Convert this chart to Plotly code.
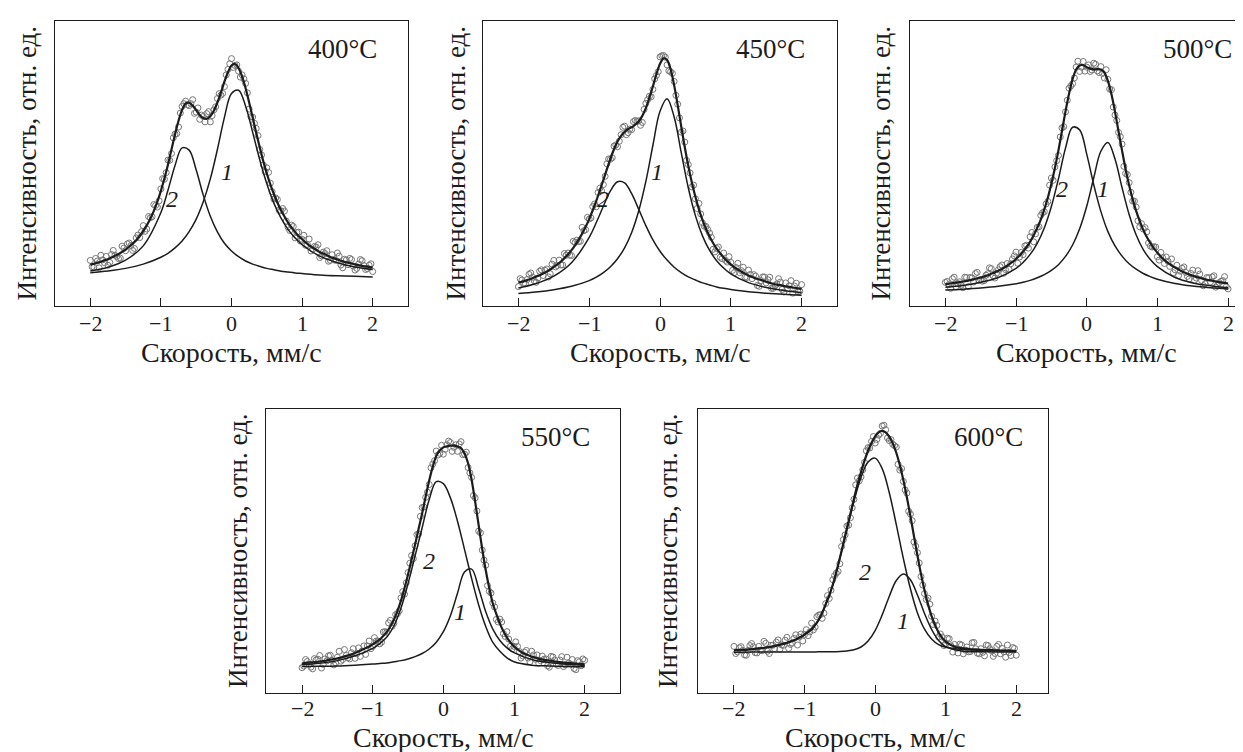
import plotly.graph_objects as go

# ---------------- data ----------------
X_DATA = [-2.0, -1.95, -1.9, -1.85, -1.8, -1.75, -1.7, -1.65, -1.6, -1.55,
          -1.5, -1.45, -1.4, -1.35, -1.3, -1.25, -1.2, -1.15, -1.1, -1.05,
          -1.0, -0.95, -0.9, -0.85, -0.8, -0.75, -0.7, -0.65, -0.6, -0.55,
          -0.5, -0.45, -0.4, -0.35, -0.3, -0.25, -0.2, -0.15, -0.1, -0.05,
          0.0, 0.05, 0.1, 0.15, 0.2, 0.25, 0.3, 0.35, 0.4, 0.45,
          0.5, 0.55, 0.6, 0.65, 0.7, 0.75, 0.8, 0.85, 0.9, 0.95,
          1.0, 1.05, 1.1, 1.15, 1.2, 1.25, 1.3, 1.35, 1.4, 1.45,
          1.5, 1.55, 1.6, 1.65, 1.7, 1.75, 1.8, 1.85, 1.9, 1.95, 2.0]

X_MID = [-1.975, -1.925, -1.875, -1.825, -1.775, -1.725, -1.675, -1.625, -1.575, -1.525,
         -1.475, -1.425, -1.375, -1.325, -1.275, -1.225, -1.175, -1.125, -1.075, -1.025,
         -0.975, -0.925, -0.875, -0.825, -0.775, -0.725, -0.675, -0.625, -0.575, -0.525,
         -0.475, -0.425, -0.375, -0.325, -0.275, -0.225, -0.175, -0.125, -0.075, -0.025,
         0.025, 0.075, 0.125, 0.175, 0.225, 0.275, 0.325, 0.375, 0.425, 0.475,
         0.525, 0.575, 0.625, 0.675, 0.725, 0.775, 0.825, 0.875, 0.925, 0.975,
         1.025, 1.075, 1.125, 1.175, 1.225, 1.275, 1.325, 1.375, 1.425, 1.475,
         1.525, 1.575, 1.625, 1.675, 1.725, 1.775, 1.825, 1.875, 1.925, 1.975]

X_FIT = [-2.0, -1.75, -1.5, -1.25, -1.0, -0.9, -0.8, -0.7, -0.6, -0.5,
         -0.4, -0.3, -0.2, -0.1, 0.0, 0.1, 0.2, 0.3, 0.4, 0.5,
         0.6, 0.7, 0.8, 0.9, 1.0, 1.25, 1.5, 1.75, 2.0]

TEMPS = ["400°C", "450°C", "500°C", "550°C", "600°C"]
TICK_VALS = [-2, -1, 0, 1, 2]
TICK_TEXT = ["\u22122", "\u22121", "0", "1", "2"]
X_TITLE = "Скорость, мм/с"
Y_TITLE = "Интенсивность, отн. ед."

# 400 °C
POINTS_400 = [16.0, 13.6, 15.8, 17.8, 15.2, 14.3, 18.1, 17.8, 16.6, 21.0,
              19.4, 22.1, 19.5, 23.9, 24.0, 28.2, 27.0, 31.0, 35.6, 34.7,
              41.1, 44.5, 51.2, 53.5, 60.3, 62.8, 70.0, 71.9, 70.3, 72.4,
              68.0, 65.5, 66.5, 67.5, 64.6, 68.8, 72.8, 74.0, 77.0, 83.0,
              86.8, 84.4, 82.4, 81.1, 78.1, 69.1, 66.3, 62.3, 54.9, 49.5,
              48.5, 43.1, 37.5, 37.4, 33.4, 33.3, 27.7, 28.4, 23.9, 25.9,
              23.4, 21.3, 23.5, 19.9, 20.7, 17.0, 18.9, 19.4, 16.0, 16.3,
              18.6, 14.4, 16.4, 14.5, 16.3, 12.6, 14.7, 15.9, 12.8, 14.3, 12.1]
POINTS_MID_400 = [13.8, 16.7, 13.4, 16.2, 17.4, 15.3, 19.5, 17.4, 16.8, 20.3,
                  21.8, 21.2, 20.2, 24.9, 26.1, 26.2, 31.4, 31.3, 35.3, 36.9,
                  44.7, 46.8, 51.1, 59.0, 60.5, 67.7, 71.0, 70.6, 71.0, 67.6,
                  69.5, 67.0, 64.6, 68.2, 66.8, 69.9, 74.5, 74.6, 81.1, 85.0,
                  83.7, 84.6, 80.3, 79.7, 74.8, 66.4, 64.1, 59.8, 53.0, 47.2,
                  46.9, 40.1, 37.9, 33.6, 34.2, 29.8, 26.5, 27.9, 25.8, 22.8,
                  24.8, 21.6, 19.3, 20.9, 21.5, 17.6, 18.4, 15.7, 18.0, 16.0,
                  17.5, 13.4, 16.1, 16.7, 14.0, 13.2, 16.3, 14.2, 13.1, 14.8]
FIT_400 = [14.5, 14.8, 15.2, 15.5, 16.0, 16.4, 17.0, 17.6, 18.2, 19.0,
           19.8, 20.8, 21.9, 23.1, 24.6, 26.3, 28.3, 30.6, 33.4, 36.6,
           40.4, 44.8, 49.6, 54.9, 60.2, 65.0, 68.8, 71.0, 71.3, 70.3,
           68.7, 67.0, 66.0, 65.7, 66.6, 68.5, 71.4, 74.9, 78.7, 82.0,
           84.4, 84.9, 83.5, 80.5, 76.4, 71.4, 66.1, 60.8, 55.7, 50.8,
           46.5, 42.7, 39.3, 36.3, 33.6, 31.4, 29.3, 27.6, 26.0, 24.6,
           23.4, 22.3, 21.3, 20.5, 19.7, 18.9, 18.4, 17.8, 17.2, 16.7,
           16.3, 15.9, 15.5, 15.2, 14.9, 14.6, 14.4, 14.1, 13.9, 13.7, 13.5]
COMP1_400 = [11.7, 12.3, 13.2, 14.7, 17.1, 18.5, 20.4, 22.8, 26.1, 30.5,
             36.6, 44.6, 54.9, 66.2, 74.6, 75.7, 70.1, 60.9, 51.3, 42.9,
             36.1, 30.9, 26.9, 23.9, 21.5, 17.5, 15.2, 13.7, 12.8]
COMP2_400 = [12.3, 13.6, 16.1, 21.1, 32.8, 40.6, 49.3, 55.5, 54.7, 47.7,
             38.9, 31.5, 26.0, 22.0, 19.3, 17.3, 15.8, 14.7, 13.9, 13.2,
             12.7, 12.2, 11.9, 11.6, 11.4, 10.9, 10.6, 10.4, 10.2]

# 450 °C
POINTS_450 = [6.8, 9.1, 7.8, 11.1, 10.1, 8.3, 12.2, 10.7, 13.0, 11.3,
              16.0, 14.2, 14.4, 18.4, 18.6, 17.7, 22.3, 22.6, 27.6, 26.8,
              30.5, 34.9, 34.8, 41.3, 42.6, 49.9, 51.5, 56.1, 55.9, 60.1,
              63.1, 60.8, 61.9, 65.1, 65.0, 64.4, 71.1, 73.6, 76.0, 80.9,
              87.4, 87.9, 84.6, 82.2, 78.8, 70.8, 61.0, 57.5, 49.6, 41.8,
              37.6, 36.0, 29.2, 27.9, 25.6, 19.9, 20.2, 17.1, 18.6, 15.4,
              15.3, 11.7, 15.0, 12.4, 10.1, 12.6, 9.6, 10.5, 6.9, 10.2,
              8.1, 10.1, 6.2, 7.7, 8.4, 4.9, 6.0, 8.9, 7.0, 5.0, 7.5]
POINTS_MID_450 = [9.6, 8.0, 9.3, 11.6, 8.8, 9.8, 12.7, 12.5, 10.2, 14.7,
                  13.7, 16.1, 14.4, 17.8, 17.8, 22.7, 23.1, 22.7, 26.4, 31.1,
                  30.9, 35.8, 39.8, 40.4, 45.5, 51.6, 52.0, 56.5, 57.8, 62.7,
                  60.1, 62.1, 64.7, 64.8, 63.4, 69.0, 72.4, 73.4, 79.7, 82.2,
                  87.8, 87.3, 82.5, 81.6, 73.9, 66.0, 61.4, 51.1, 46.7, 42.4,
                  34.2, 32.3, 28.0, 26.8, 24.1, 19.0, 20.7, 16.6, 16.0, 17.3,
                  12.5, 13.5, 11.7, 13.6, 10.0, 11.1, 11.0, 7.2, 8.9, 10.2,
                  9.2, 6.2, 7.2, 9.6, 5.8, 8.1, 7.1, 4.5, 8.0, 5.2]
FIT_450 = [8.2, 8.5, 8.9, 9.3, 9.8, 10.3, 10.8, 11.4, 12.1, 12.8,
           13.7, 14.6, 15.6, 16.8, 18.1, 19.6, 21.3, 23.2, 25.4, 27.8,
           30.5, 33.6, 36.9, 40.5, 44.2, 48.0, 51.7, 55.0, 57.7, 59.7,
           61.1, 62.1, 62.7, 63.6, 64.8, 66.7, 69.4, 73.0, 77.1, 81.4,
           85.0, 86.9, 86.3, 83.1, 77.4, 70.5, 63.0, 55.7, 49.1, 43.3,
           38.3, 33.9, 30.2, 27.0, 24.4, 22.1, 20.1, 18.5, 17.0, 15.7,
           14.6, 13.6, 12.8, 12.0, 11.4, 10.7, 10.2, 9.7, 9.3, 8.9,
           8.5, 8.1, 7.8, 7.5, 7.3, 7.0, 6.8, 6.6, 6.4, 6.2, 6.0]
COMP1_450 = [4.4, 4.9, 5.7, 6.9, 8.9, 10.1, 11.7, 13.8, 16.6, 20.4,
             25.8, 33.4, 43.7, 56.4, 68.3, 72.7, 66.3, 53.8, 41.4, 31.7,
             24.6, 19.5, 15.9, 13.3, 11.3, 8.2, 6.5, 5.4, 4.7]
COMP2_450 = [6.3, 7.9, 10.5, 15.2, 24.1, 29.3, 35.0, 40.4, 43.6, 43.2,
             39.4, 33.9, 28.2, 23.2, 19.2, 16.1, 13.6, 11.7, 10.2, 9.1,
             8.1, 7.4, 6.7, 6.2, 5.8, 5.0, 4.5, 4.1, 3.8]

# 500 °C
POINTS_500 = [8.3, 7.5, 9.6, 6.8, 8.5, 6.4, 10.0, 10.0, 8.4, 11.8,
              9.3, 8.9, 11.3, 13.1, 9.8, 12.7, 14.4, 12.8, 12.9, 16.5,
              18.9, 17.2, 18.0, 21.3, 24.3, 22.5, 27.6, 31.8, 33.1, 36.7,
              44.9, 48.8, 52.8, 62.5, 68.1, 76.4, 78.0, 83.8, 82.3, 85.8,
              83.8, 82.3, 85.2, 82.5, 84.0, 80.0, 79.5, 75.9, 67.0, 60.9,
              56.8, 46.5, 43.3, 36.8, 34.7, 27.8, 27.0, 26.0, 21.0, 20.8,
              17.3, 18.8, 14.9, 15.7, 16.5, 12.7, 10.7, 13.2, 11.8, 9.5,
              12.6, 9.8, 11.2, 7.1, 10.0, 8.4, 10.6, 7.2, 8.7, 10.3, 6.0]
POINTS_MID_500 = [8.6, 6.2, 10.1, 7.9, 7.3, 10.1, 6.8, 9.8, 11.4, 9.0,
                  8.7, 10.8, 13.4, 10.6, 11.5, 13.8, 11.5, 14.9, 14.8, 17.6,
                  15.0, 18.8, 21.1, 20.3, 25.8, 25.3, 27.8, 32.7, 35.8, 42.4,
                  44.1, 51.0, 59.3, 62.9, 72.2, 77.2, 80.0, 85.9, 83.8, 82.4,
                  84.6, 82.8, 84.8, 81.9, 81.6, 82.9, 76.1, 69.8, 65.1, 59.4,
                  49.0, 46.1, 39.9, 36.8, 29.9, 28.9, 27.5, 22.1, 20.7, 20.7,
                  16.1, 16.9, 17.2, 13.9, 11.7, 14.3, 12.2, 13.7, 10.4, 11.4,
                  9.0, 12.4, 9.0, 7.8, 9.9, 10.2, 6.6, 8.2, 8.9, 6.8]
FIT_500 = [7.6, 7.8, 8.0, 8.2, 8.4, 8.6, 8.8, 9.1, 9.4, 9.7,
           10.0, 10.4, 10.8, 11.3, 11.8, 12.4, 13.0, 13.7, 14.6, 15.5,
           16.5, 17.7, 19.1, 20.7, 22.6, 24.8, 27.4, 30.3, 33.9, 38.0,
           42.9, 48.4, 54.6, 61.4, 68.3, 74.5, 79.6, 83.0, 84.4, 84.5,
           83.8, 83.3, 83.0, 83.1, 83.0, 81.9, 79.0, 74.3, 68.2, 61.3,
           54.5, 48.0, 42.4, 37.5, 33.3, 29.8, 26.7, 24.2, 22.1, 20.2,
           18.7, 17.3, 16.1, 15.1, 14.2, 13.5, 12.8, 12.1, 11.6, 11.1,
           10.6, 10.2, 9.9, 9.5, 9.2, 9.0, 8.7, 8.5, 8.3, 8.1, 7.9]
COMP1_500 = [5.6, 5.9, 6.3, 6.9, 7.8, 8.3, 9.0, 9.9, 11.0, 12.5,
             14.5, 17.4, 21.4, 27.1, 35.0, 45.0, 54.3, 57.4, 51.6, 41.5,
             32.1, 24.9, 19.8, 16.3, 13.8, 10.0, 8.1, 7.1, 6.4]
COMP2_500 = [6.6, 7.2, 8.3, 10.0, 13.2, 15.3, 18.1, 22.0, 27.4, 34.9,
             44.6, 55.4, 62.7, 61.8, 53.3, 42.5, 33.2, 26.1, 21.1, 17.5,
             14.8, 12.9, 11.4, 10.3, 9.4, 7.9, 7.0, 6.4, 6.0]

# 550 °C
POINTS_550 = [8.9, 11.8, 10.1, 8.5, 11.7, 13.2, 10.1, 11.3, 13.3, 9.9,
              12.6, 11.2, 15.3, 12.4, 14.2, 12.2, 15.9, 14.8, 13.6, 18.3,
              16.4, 18.3, 17.3, 21.5, 21.4, 25.6, 24.6, 27.9, 33.5, 34.8,
              42.4, 48.4, 51.8, 56.0, 65.3, 68.9, 73.4, 80.6, 85.2, 84.4,
              84.1, 87.4, 88.2, 86.5, 85.1, 88.5, 84.1, 79.4, 75.9, 68.7,
              57.0, 50.3, 45.0, 35.8, 31.7, 25.9, 26.0, 20.9, 21.6, 16.5,
              16.4, 16.4, 12.3, 14.4, 12.3, 14.7, 11.9, 10.5, 13.0, 12.0,
              9.1, 12.7, 10.1, 11.6, 9.3, 12.6, 10.2, 8.6, 11.4, 9.6, 11.5]
POINTS_MID_550 = [9.5, 11.1, 9.1, 12.1, 11.9, 8.8, 12.0, 13.1, 11.5, 10.6,
                  14.7, 11.8, 13.2, 12.0, 15.6, 13.8, 12.9, 16.6, 16.6, 15.6,
                  19.5, 18.3, 17.9, 21.6, 24.7, 23.5, 27.6, 28.9, 35.7, 38.8,
                  45.7, 47.3, 55.8, 62.2, 65.5, 70.7, 79.3, 81.8, 83.8, 87.2,
                  85.8, 88.7, 85.1, 87.4, 87.7, 83.9, 84.8, 77.5, 69.5, 64.1,
                  56.4, 46.8, 37.8, 35.2, 30.3, 25.0, 25.0, 19.9, 19.0, 15.5,
                  18.0, 14.6, 13.0, 15.0, 11.0, 13.4, 13.4, 11.4, 11.9, 9.6,
                  12.9, 11.6, 9.7, 12.8, 9.9, 10.5, 11.8, 8.2, 11.0, 12.0]
FIT_550 = [10.4, 10.6, 10.7, 10.8, 10.9, 11.1, 11.2, 11.5, 11.7, 11.9,
           12.2, 12.5, 12.9, 13.2, 13.6, 14.1, 14.6, 15.2, 15.8, 16.4,
           17.1, 18.0, 18.9, 20.1, 21.5, 23.4, 25.8, 28.8, 32.5, 36.9,
           41.7, 46.9, 52.3, 57.8, 63.3, 69.2, 74.8, 79.7, 83.5, 85.4,
           86.5, 86.9, 87.1, 87.1, 86.8, 86.2, 84.3, 80.9, 75.1, 67.4,
           59.0, 50.7, 43.2, 36.9, 31.5, 27.8, 24.4, 21.7, 19.5, 17.8,
           16.4, 15.4, 14.5, 13.8, 13.3, 12.8, 12.4, 12.1, 11.8, 11.6,
           11.4, 11.2, 11.0, 10.9, 10.7, 10.6, 10.5, 10.4, 10.3, 10.2, 10.1]
COMP1_550 = [9.3, 9.4, 9.5, 9.8, 10.2, 10.4, 10.6, 11.0, 11.4, 12.0,
             12.8, 13.9, 15.5, 17.9, 21.6, 27.2, 35.1, 42.6, 43.6, 36.8,
             28.6, 22.5, 18.5, 15.9, 14.2, 11.8, 10.7, 10.1, 9.7]
COMP2_550 = [10.0, 10.5, 11.4, 13.1, 15.7, 17.4, 19.7, 23.6, 29.9, 38.5,
             48.3, 58.2, 68.1, 74.4, 73.7, 68.7, 60.5, 50.5, 40.3, 31.0,
             23.4, 17.8, 14.7, 12.4, 11.0, 9.8, 9.5, 9.3, 9.2]

# 600 °C
POINTS_600 = [16.4, 14.5, 16.3, 13.4, 15.0, 17.4, 14.2, 16.4, 14.9, 17.5,
              13.9, 16.8, 17.9, 15.4, 16.8, 19.6, 17.1, 19.2, 16.9, 20.8,
              20.6, 20.2, 24.6, 23.2, 27.4, 26.3, 31.5, 33.3, 39.9, 42.2,
              45.5, 54.0, 58.8, 61.7, 68.2, 75.7, 76.1, 81.2, 86.4, 88.6,
              88.0, 90.8, 94.0, 92.7, 88.9, 87.6, 86.6, 78.5, 74.5, 70.4,
              63.0, 53.2, 49.4, 41.0, 35.0, 33.4, 27.0, 25.3, 19.7, 19.7,
              17.4, 19.1, 14.4, 15.7, 17.2, 13.8, 16.2, 14.6, 17.8, 14.0,
              15.6, 13.1, 16.7, 14.9, 13.9, 17.1, 15.7, 12.6, 14.3, 16.0, 13.3]
POINTS_MID_600 = [13.9, 15.9, 15.0, 13.3, 16.7, 16.3, 14.1, 15.1, 18.2, 14.7,
                  16.8, 15.6, 18.7, 16.9, 18.6, 15.7, 17.6, 20.5, 19.7, 18.3,
                  22.3, 21.5, 22.2, 26.9, 27.6, 28.1, 34.3, 36.2, 41.3, 42.8,
                  51.6, 55.7, 59.1, 65.2, 73.3, 74.7, 78.6, 85.3, 86.3, 90.3,
                  89.3, 91.4, 94.3, 89.8, 89.2, 87.1, 80.5, 79.0, 71.5, 64.0,
                  60.7, 51.7, 45.8, 38.0, 32.9, 31.3, 24.1, 23.8, 20.8, 16.7,
                  19.3, 16.6, 17.1, 14.1, 16.9, 15.1, 14.5, 17.7, 15.6, 13.8,
                  14.3, 16.9, 15.6, 12.9, 16.4, 13.8, 14.5, 16.9, 13.2, 15.7]
FIT_600 = [15.0, 15.1, 15.2, 15.2, 15.3, 15.4, 15.6, 15.7, 15.8, 16.0,
           16.2, 16.4, 16.7, 17.0, 17.3, 17.7, 18.1, 18.6, 19.1, 19.8,
           20.6, 21.5, 22.5, 24.0, 25.8, 28.2, 31.3, 34.4, 38.1, 42.6,
           47.5, 52.7, 58.0, 63.2, 68.4, 73.4, 77.8, 81.8, 85.3, 88.1,
           90.4, 91.8, 92.3, 91.8, 90.3, 87.9, 84.6, 80.3, 75.0, 68.9,
           62.3, 55.3, 48.4, 41.9, 36.2, 31.2, 27.1, 23.9, 21.3, 19.4,
           18.1, 17.2, 16.6, 16.1, 15.9, 15.7, 15.6, 15.4, 15.4, 15.3,
           15.2, 15.1, 15.1, 15.1, 15.0, 15.0, 14.9, 14.9, 14.9, 14.8, 14.8]
COMP1_600 = [14.3, 14.4, 14.4, 14.4, 14.4, 14.4, 14.5, 14.5, 14.5, 14.6,
             14.8, 15.2, 16.2, 18.3, 22.0, 27.5, 34.0, 39.6, 41.9, 39.9,
             34.5, 28.0, 22.4, 18.5, 16.3, 14.7, 14.5, 14.4, 14.4]
COMP2_600 = [15.0, 15.4, 16.2, 17.6, 20.5, 22.4, 25.6, 31.1, 37.9, 47.3,
             57.5, 67.5, 75.9, 81.3, 82.7, 79.0, 70.6, 59.3, 47.4, 36.7,
             28.2, 22.5, 19.0, 17.0, 16.1, 15.3, 15.0, 14.9, 14.7]

POINTS = [POINTS_400, POINTS_450, POINTS_500, POINTS_550, POINTS_600]
POINTS_MID = [POINTS_MID_400, POINTS_MID_450, POINTS_MID_500, POINTS_MID_550, POINTS_MID_600]
FITS = [FIT_400, FIT_450, FIT_500, FIT_550, FIT_600]
COMP1 = [COMP1_400, COMP1_450, COMP1_500, COMP1_550, COMP1_600]
COMP2 = [COMP2_400, COMP2_450, COMP2_500, COMP2_550, COMP2_600]

for arr in POINTS + FITS:
    assert len(arr) == len(X_DATA), len(arr)
for arr in POINTS_MID:
    assert len(arr) == len(X_MID), len(arr)
for arr in COMP1 + COMP2:
    assert len(arr) == len(X_FIT), len(arr)

# ---------------- layout geometry ----------------
W, H = 1243, 752
FONT = "Liberation Serif"
INK = "#1c1c1c"
DOT = "#767676"

PANELS = [
    dict(box=(47, 400, 13, 298), xr=[-2.5, 2.5], tx=2.09, l1=(-0.06, 47.1), l2=(-0.84, 37.6), ytx=19),
    dict(box=(475, 829, 13, 298), xr=[-2.5, 2.5], tx=2.08, l1=(-0.04, 47.0), l2=(-0.80, 37.6), ytx=448),
    dict(box=(902, 1242, 13, 298), xr=[-2.5, 2.31], tx=2.08, l1=(0.23, 41.1), l2=(-0.35, 41.1), ytx=873),
    dict(box=(258, 612, 401, 685), xr=[-2.51, 2.5], tx=2.10, l1=(0.23, 28.4), l2=(-0.20, 46.6), ytx=230),
    dict(box=(690, 1040, 401, 685), xr=[-2.51, 2.45], tx=2.12, l1=(0.39, 25.5), l2=(-0.14, 42.5), ytx=660),
]
XTITLE_Y = [345, 345, 345, 729, 729]
TICKLABEL_Y = [315, 315, 315, 700, 700]

fig = go.Figure()
annotations = []
layout = dict(
    width=W, height=H,
    margin=dict(l=0, r=0, t=0, b=0),
    paper_bgcolor="white", plot_bgcolor="white",
    showlegend=False,
)

for i, p in enumerate(PANELS):
    n = i + 1
    xs = "x" if n == 1 else f"x{n}"
    ys = "y" if n == 1 else f"y{n}"
    L, R, T, B = p["box"]
    layout["xaxis" if n == 1 else f"xaxis{n}"] = dict(
        domain=[L / W, R / W], range=p["xr"], anchor=ys,
        showline=True, linecolor=INK, linewidth=1, mirror=True,
        ticks="inside", ticklen=8, tickwidth=1, tickcolor=INK,
        tickvals=TICK_VALS, showticklabels=False,
        showgrid=False, zeroline=False,
    )
    layout["yaxis" if n == 1 else f"yaxis{n}"] = dict(
        domain=[1 - B / H, 1 - T / H], range=[0, 100], anchor=xs,
        showline=True, linecolor=INK, linewidth=1, mirror=True,
        ticks="", showticklabels=False, showgrid=False, zeroline=False,
    )

    for xv, yv in ((X_DATA, POINTS[i]), (X_MID, POINTS_MID[i])):
        fig.add_trace(go.Scatter(
            x=xv, y=yv, xaxis=xs, yaxis=ys, mode="markers",
            marker=dict(symbol="circle-open", size=6, color=DOT, line=dict(width=1)),
            hoverinfo="skip"))
    for comp in (COMP1[i], COMP2[i]):
        fig.add_trace(go.Scatter(
            x=X_FIT, y=comp, xaxis=xs, yaxis=ys, mode="lines",
            line=dict(color=INK, width=1.5, shape="spline", smoothing=1.0),
            hoverinfo="skip"))
    fig.add_trace(go.Scatter(
        x=X_DATA, y=FITS[i], xaxis=xs, yaxis=ys, mode="lines",
        line=dict(color=INK, width=2.2, shape="spline", smoothing=0.8),
        hoverinfo="skip"))

    # tick labels
    for tv, tt in zip(TICK_VALS, TICK_TEXT):
        annotations.append(dict(
            x=tv, y=1 - TICKLABEL_Y[i] / H, xref=xs, yref="paper", text=tt,
            showarrow=False, xanchor="center", yanchor="middle",
            font=dict(family=FONT, size=22, color=INK)))
    annotations.append(dict(
        x=p["tx"], y=90, xref=xs, yref=ys, text=TEMPS[i], showarrow=False,
        xanchor="right", yanchor="middle",
        font=dict(family=FONT, size=27, color=INK)))
    for lab, (lx, ly) in (("1", p["l1"]), ("2", p["l2"])):
        annotations.append(dict(
            x=lx, y=ly, xref=xs, yref=ys, text=f"<i>{lab}</i>", showarrow=False,
            xanchor="center", yanchor="middle",
            font=dict(family=FONT, size=24, color=INK)))
    annotations.append(dict(
        x=0, y=1 - XTITLE_Y[i] / H, xref=xs, yref="paper", text=X_TITLE,
        showarrow=False, xanchor="center", yanchor="middle",
        font=dict(family=FONT, size=28, color=INK)))
    annotations.append(dict(
        x=p["ytx"] / W, y=1 - (T + B) / 2 / H, xref="paper", yref="paper",
        text=Y_TITLE, textangle=-90, showarrow=False,
        xanchor="center", yanchor="middle",
        font=dict(family=FONT, size=27, color=INK)))

layout["annotations"] = annotations
fig.update_layout(**layout)
fig.write_html("out.html")
